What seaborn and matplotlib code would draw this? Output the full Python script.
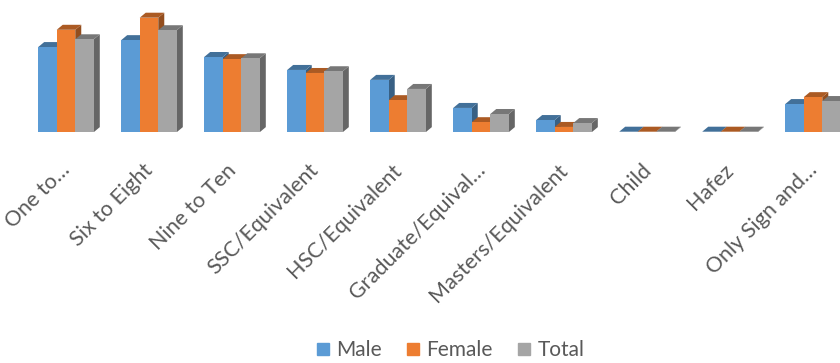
import matplotlib
matplotlib.use("Agg")
import matplotlib.pyplot as plt
import matplotlib.colors as mcolors
from matplotlib.lines import Line2D
from matplotlib.patches import Polygon
import pandas as pd
import seaborn as sns

# Education level distribution (%) by sex
categories = ["One to…", "Six to Eight", "Nine to Ten", "SSC/Equivalent",
              "HSC/Equivalent", "Graduate/Equival…", "Masters/Equivalent",
              "Child", "Hafez", "Only Sign and…"]
male = [19.7, 21.3, 17.4, 14.4, 12.1, 5.6, 2.8, 0.1, 0.1, 6.5]
female = [23.7, 26.5, 16.9, 13.7, 7.4, 2.3, 1.2, 0.1, 0.1, 8.1]
total = [21.5, 23.6, 17.1, 14.1, 10.0, 4.2, 2.1, 0.1, 0.1, 7.2]
series = ["Male", "Female", "Total"]
colors = {"Male": "#5B9BD5", "Female": "#ED7D31", "Total": "#A5A5A5"}

df = pd.DataFrame({
    "Level": categories * 3,
    "Sex": [s for s in series for _ in categories],
    "Percent": male + female + total,
})

sns.set_theme(style="white")
plt.rcParams["font.family"] = ["Lato", "DejaVu Sans"]
text_color = "#595959"

fig = plt.figure(figsize=(8.4, 3.63), dpi=100)
ax = fig.add_axes([0, 0.636, 1, 0.364])
sns.barplot(data=df, x="Level", y="Percent", hue="Sex", order=categories,
            hue_order=series, palette=colors, width=0.67, saturation=1,
            linewidth=0, ax=ax, legend=False, errorbar=None)
ax.set_xlim(-0.795, 9.325)
ax.set_ylim(0, 30.6)

# Pseudo-3D depth: a fixed pixel offset converted to data units
inv = ax.transData.inverted()
p0 = inv.transform((0, 0))
p1 = inv.transform((6, 5))
dx, dy = p1[0] - p0[0], p1[1] - p0[1]

def shade(c, f):
    r, g, b = mcolors.to_rgb(c)
    return (r * f, g * f, b * f)

# Draw left to right so each front face covers its neighbour's side face
bars = sorted(ax.patches, key=lambda p: p.get_x())
for i, bar in enumerate(bars):
    x, y = bar.get_x(), bar.get_y()
    w, h = bar.get_width(), bar.get_height()
    col = bar.get_facecolor()
    top = Polygon([(x, y + h), (x + w, y + h), (x + w + dx, y + h + dy),
                   (x + dx, y + h + dy)], closed=True,
                  facecolor=shade(col, 0.72), edgecolor="none")
    side = Polygon([(x + w, y), (x + w + dx, y + dy), (x + w + dx, y + h + dy),
                    (x + w, y + h)], closed=True,
                   facecolor=shade(col, 0.62), edgecolor="none")
    base = 2 + 3 * i
    side.set_zorder(base)
    top.set_zorder(base + 1)
    bar.set_zorder(base + 2)
    ax.add_patch(side)
    ax.add_patch(top)

# Category labels, rotated 45 degrees and anchored at their upper right corner
ax.set_xticks(range(len(categories)))
ax.set_xticklabels([])
ax.tick_params(axis="x", length=0)
for i, name in enumerate(categories):
    ax.annotate(name, xy=(i, 0), xycoords=("data", "axes fraction"),
                xytext=(-4.5, -20), textcoords="offset points",
                rotation=45, rotation_mode="anchor", ha="right", va="top",
                color=text_color, fontsize=15.5, annotation_clip=False)
ax.set_yticks([])
ax.set_xlabel("")
ax.set_ylabel("")
for s in ax.spines.values():
    s.set_visible(False)

handles = [Line2D([], [], marker="s", ls="", color=colors[s], markersize=8.5)
           for s in series]
fig.legend(handles, series, loc="center", bbox_to_anchor=(0.535, 0.036),
           ncol=3, frameon=False, fontsize=15, labelcolor=text_color,
           handletextpad=0.25, columnspacing=1.1, handlelength=0.8)

fig.savefig("out.png", dpi=100)
